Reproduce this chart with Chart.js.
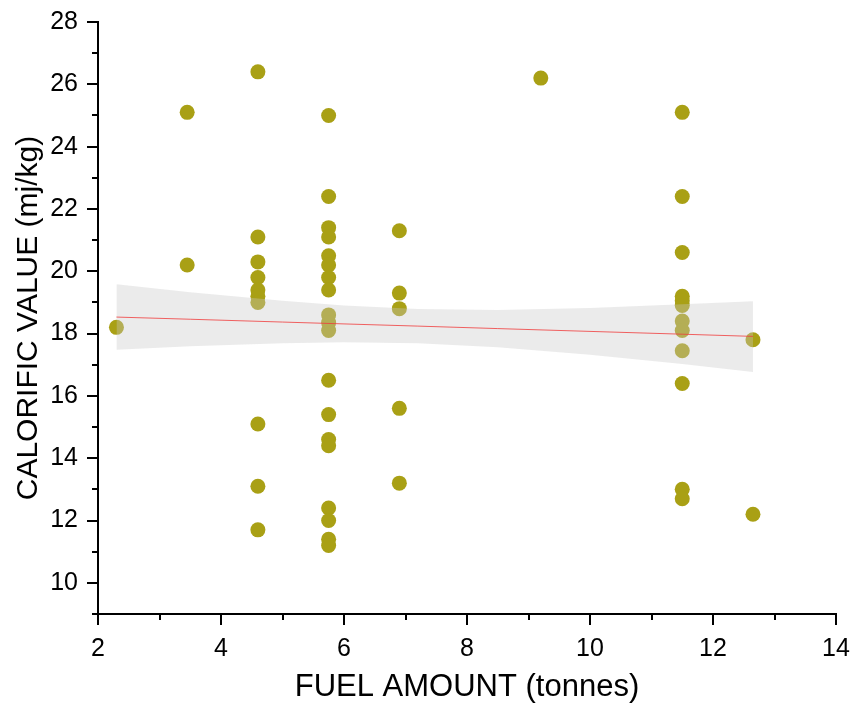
<!DOCTYPE html>
<html>
<head>
<meta charset="utf-8">
<script src="https://cdn.jsdelivr.net/npm/chart.js@4"></script>
<style>
  html, body { margin: 0; padding: 0; background: #fff; }
  #wrap { width: 852px; height: 706px; }
</style>
</head>
<body>
<div id="wrap"><canvas id="fuelChart" width="852" height="706"></canvas></div>
<script>
// measured points: fuel amount (tonnes) vs calorific value (mj/kg)
const fuelAmount = [
  2.3,
  3.45, 3.45,
  4.6, 4.6, 4.6, 4.6, 4.6, 4.6, 4.6, 4.6, 4.6, 4.6,
  5.75, 5.75, 5.75, 5.75, 5.75, 5.75, 5.75, 5.75, 5.75, 5.75, 5.75, 5.75, 5.75, 5.75, 5.75, 5.75, 5.75, 5.75, 5.75,
  6.9, 6.9, 6.9, 6.9, 6.9,
  9.2,
  11.5, 11.5, 11.5, 11.5, 11.5, 11.5, 11.5, 11.5, 11.5, 11.5, 11.5, 11.5,
  12.65, 12.65
];
const calorificValue = [
  18.2,
  25.1, 20.2,
  26.4, 21.1, 20.3, 19.8, 19.4, 19.2, 19.0, 15.1, 13.1, 11.7,
  25.0, 22.4, 21.4, 21.1, 20.5, 20.2, 19.8, 19.4, 18.6, 18.35, 18.1, 16.5, 15.4, 14.6, 14.4, 12.4, 12.0, 11.4, 11.2,
  21.3, 19.3, 18.8, 15.6, 13.2,
  26.2,
  25.1, 22.4, 20.6, 19.2, 19.05, 18.9, 18.4, 18.1, 17.45, 16.4, 13.0, 12.7,
  17.8, 12.2
];

// fit line and its confidence band
const fitX = [2.3, 3.5, 5, 6, 7.2, 8.5, 10, 11.5, 12.65];
const fitY = [18.53, 18.46, 18.37, 18.31, 18.24, 18.16, 18.07, 17.98, 17.91];
const bandUpper = [19.58, 19.33, 19.05, 18.90, 18.79, 18.76, 18.82, 18.94, 19.04];
const bandLower = [17.48, 17.59, 17.69, 17.72, 17.69, 17.56, 17.32, 17.02, 16.77];

const xTicks = [2, 4, 6, 8, 10, 12, 14];
const yTicks = [10, 12, 14, 16, 18, 20, 22, 24, 26, 28];

const toXY = (xs, ys) => xs.map((x, i) => ({ x, y: ys[i] }));
const FONT = 'Liberation Sans, Arial, sans-serif';

// origin-style tick marks: long on labelled values, short in between
const tickMarks = {
  id: 'tickMarks',
  afterDraw(chart) {
    const ctx = chart.ctx;
    const xs = chart.scales.x, ys = chart.scales.y;
    ctx.save();
    ctx.strokeStyle = '#000';
    ctx.lineWidth = 2;
    ctx.beginPath();
    for (let v = xs.min; v <= xs.max; v++) {
      const px = Math.round(xs.getPixelForValue(v));
      const len = xTicks.includes(v) ? 11 : 6;
      ctx.moveTo(px, xs.top);
      ctx.lineTo(px, xs.top + len);
    }
    for (let v = ys.min; v <= ys.max; v++) {
      const py = Math.round(ys.getPixelForValue(v));
      const len = yTicks.includes(v) ? 11 : 6;
      ctx.moveTo(ys.right, py);
      ctx.lineTo(ys.right - len, py);
    }
    ctx.stroke();
    ctx.restore();
  }
};

const ctx = document.getElementById('fuelChart').getContext('2d');
new Chart(ctx, {
  type: 'scatter',
  data: {
    datasets: [
      {
        label: 'Fit',
        data: toXY(fitX, fitY),
        showLine: true,
        borderColor: 'rgba(240,60,60,0.8)',
        borderWidth: 1,
        pointRadius: 0,
        order: 0
      },
      {
        label: 'Upper',
        data: toXY(fitX, bandUpper),
        showLine: true,
        borderWidth: 0,
        borderColor: 'rgba(0,0,0,0)',
        pointRadius: 0,
        order: 1
      },
      {
        label: 'Lower',
        data: toXY(fitX, bandLower),
        showLine: true,
        borderWidth: 0,
        borderColor: 'rgba(0,0,0,0)',
        pointRadius: 0,
        fill: '-1',
        backgroundColor: 'rgba(200,200,200,0.36)',
        order: 1
      },
      {
        label: 'Data',
        data: toXY(fuelAmount, calorificValue),
        backgroundColor: '#a9a015',
        borderWidth: 0,
        pointRadius: 7.5,
        order: 2
      }
    ]
  },
  options: {
    responsive: false,
    animation: false,
    layout: { padding: { top: 22, right: 16, left: 0, bottom: 0 } },
    plugins: {
      legend: { display: false },
      tooltip: { enabled: false }
    },
    scales: {
      x: {
        type: 'linear',
        min: 2,
        max: 14,
        grid: { display: false },
        border: { display: true, color: '#000', width: 2 },
        ticks: {
          stepSize: 1,
          autoSkip: false,
          maxRotation: 0,
          padding: 12,
          color: '#000',
          font: { family: FONT, size: 25 },
          callback: v => xTicks.includes(v) ? String(v) : ''
        },
        title: {
          display: true,
          text: 'FUEL AMOUNT (tonnes)',
          color: '#000',
          font: { family: FONT, size: 31 },
          padding: { top: 9, bottom: 0 }
        },
        afterFit: s => {
          s.height = 92;
          s.paddingLeft = 0;
          s.paddingRight = 0;
        }
      },
      y: {
        type: 'linear',
        min: 9,
        max: 28,
        grid: { display: false },
        border: { display: true, color: '#000', width: 2 },
        ticks: {
          stepSize: 1,
          autoSkip: false,
          padding: 12,
          color: '#000',
          font: { family: FONT, size: 25 },
          callback: v => yTicks.includes(v) ? String(v) : ''
        },
        title: {
          display: true,
          text: 'CALORIFIC VALUE (mj/kg)',
          color: '#000',
          font: { family: FONT, size: 30 },
          padding: { top: 11, bottom: 0 }
        },
        afterFit: s => {
          s.width = 98;
          s.paddingTop = 0;
          s.paddingBottom = 0;
        }
      }
    }
  },
  plugins: [tickMarks]
});
</script>
</body>
</html>
